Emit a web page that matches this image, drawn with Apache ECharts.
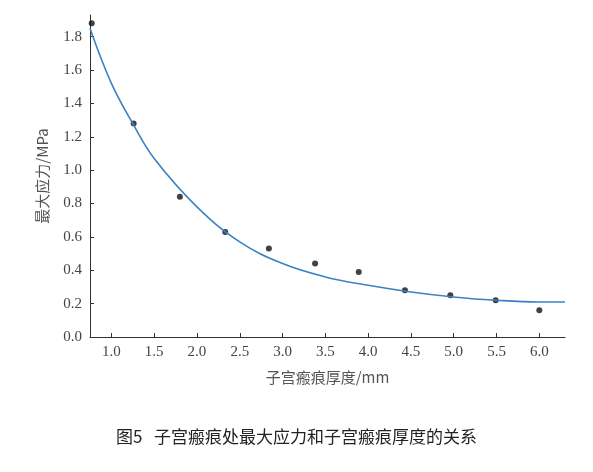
<!DOCTYPE html>
<html><head><meta charset="utf-8">
<script src="https://cdn.jsdelivr.net/npm/echarts@6/dist/echarts.min.js"></script>
<style>body{margin:0;background:#fff}#c{width:593px;height:472px}</style>
</head><body><div id="c"></div>
<script>
// measured points (thickness mm, max stress MPa)
var pointX = [0.77, 1.26, 1.80, 2.33, 2.84, 3.38, 3.89, 4.43, 4.96, 5.49, 6.00];
var pointY = [1.88, 1.28, 0.84, 0.63, 0.53, 0.44, 0.39, 0.28, 0.25, 0.22, 0.16];
// fitted curve
var fitX = [0.75, 1.0, 1.26, 1.5, 2.0, 2.5, 3.0, 3.5, 4.0, 4.5, 5.0, 5.5, 6.0, 6.3];
var fitY = [1.85, 1.52, 1.27, 1.07, 0.78, 0.57, 0.44, 0.36, 0.31, 0.27, 0.24, 0.22, 0.21, 0.21];
var xTicks = [1.0, 1.5, 2.0, 2.5, 3.0, 3.5, 4.0, 4.5, 5.0, 5.5, 6.0];
var yTicks = [0.0, 0.2, 0.4, 0.6, 0.8, 1.0, 1.2, 1.4, 1.6, 1.8];

var serif = 'Liberation Serif, DejaVu Serif, serif';
var chart = echarts.init(document.getElementById('c'));
chart.setOption({
  animation: false,
  grid: {left: 90, right: 28, top: 15, bottom: 135},
  xAxis: {
    type: 'value', min: 0.75, max: 6.3,
    axisLine: {lineStyle: {color: '#333'}},
    axisTick: {customValues: xTicks, inside: true, length: 4},
    axisLabel: {customValues: xTicks, color: '#444', fontFamily: serif, fontSize: 15,
      formatter: function (v) { return v.toFixed(1); }},
    splitLine: {show: false},
    name: '子宫瘢痕厚度/mm', nameLocation: 'middle', nameGap: 33,
    nameTextStyle: {color: '#555', fontSize: 15, fontFamily: 'Noto Sans CJK SC'}
  },
  yAxis: {
    type: 'value', min: 0, max: 1.93,
    axisLine: {show: true, lineStyle: {color: '#333'}},
    axisTick: {show: true, customValues: yTicks, inside: true, length: 4},
    axisLabel: {customValues: yTicks, color: '#444', fontFamily: serif, fontSize: 15,
      formatter: function (v) { return v.toFixed(1); }},
    splitLine: {show: false},
    name: '最大应力/MPa', nameLocation: 'middle', nameGap: 40,
    nameTextStyle: {color: '#555', fontSize: 15, fontFamily: 'Noto Sans CJK SC'}
  },
  series: [
    {type: 'line', smooth: 0.4, showSymbol: false,
      data: fitX.map(function (x, i) { return [x, fitY[i]]; }),
      lineStyle: {color: '#3a82c4', width: 1.6}},
    {type: 'scatter', symbolSize: 6,
      data: pointX.map(function (x, i) { return [x, pointY[i]]; }),
      itemStyle: {color: '#111'}}
  ],
  graphic: [{type: 'text', left: 'center', top: 428,
    style: {text: '图5   子宫瘢痕处最大应力和子宫瘢痕厚度的关系', fontSize: 17,
      fontFamily: 'Noto Sans CJK SC', fill: '#222'}}]
});
</script></body></html>
